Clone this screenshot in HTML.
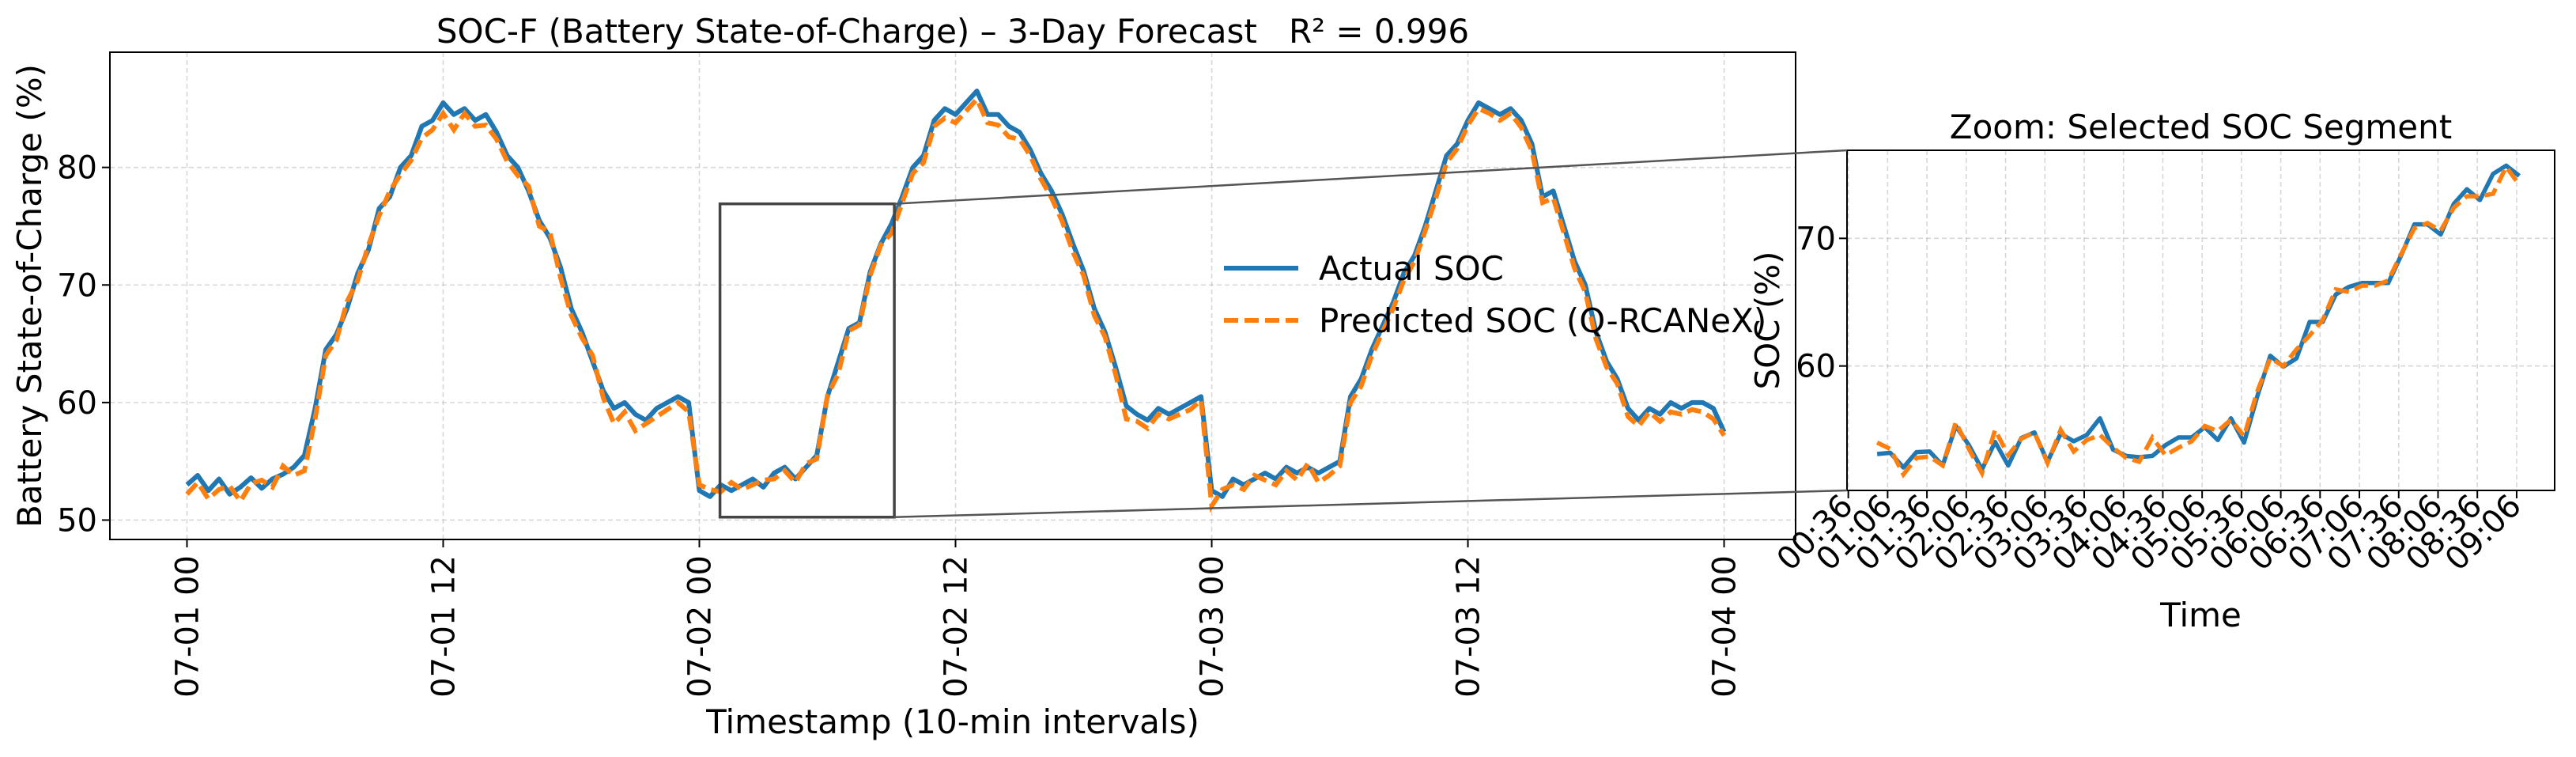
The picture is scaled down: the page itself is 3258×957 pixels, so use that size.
<!DOCTYPE html>
<html><head><meta charset="utf-8"><style>
html,body{margin:0;padding:0;background:#fff;}
svg{display:block;font-family:"DejaVu Sans","Liberation Sans",sans-serif;}
</style></head><body>
<svg id="chart" width="3258" height="957" viewBox="0 0 3258 957" xmlns="http://www.w3.org/2000/svg">
<rect width="3258" height="957" fill="#fff"/>
<g id="main"></g>
<g id="inset"></g>
<g id="overlay"></g>
</svg>
<script>
// ---- main chart data (30-min samples, hours from 07-01 00:00) ----
const mainActual = [
53,53.8,52.5,53.5,52.2,52.8,53.6,52.7,53.5,53.9,54.5,55.5,
59.5,64.5,65.8,68,71,73,76.5,77.5,80,81,83.5,84,85.5,84.5,85,84,84.5,83,81,80,78,75.5,74,71.5,68,66,63.5,61,59.5,60,59,58.5,59.5,60,60.5,60,
52.5,52,53,52.5,53,53.5,52.8,54,54.5,53.5,54.5,55.5,
60.5,63.4,66.3,66.8,71.1,73.5,75.2,77.5,80,81,84,85,84.5,85.5,86.5,84.5,84.5,83.5,83,81.5,79.5,78,76,73.5,71.2,68,66,63,59.7,59,58.5,59.5,59,59.5,60,60.5,
52.5,52,53.5,53,53.5,54,53.5,54.5,54,54.5,54,54.5,
55,60.5,62,64.5,66.5,68.5,71,72.5,75,78,81,82,84,85.5,85,84.5,85,84,82,77.5,78,75,72,70,66,63.5,62,59.5,58.5,59.5,59,60,59.5,60,60,59.5,
57.5];
const mainPredicted = [
52.2,53.2,51.8,52.6,52.9,51.6,53.1,53.4,52.8,54.6,53.8,54.2,
58.6,64,65.3,68.6,70.4,73.4,75.9,78,79.4,80.6,82.5,83.2,84.6,83.2,84.6,83.5,83.6,82.4,80.5,79.3,78.4,75,74.5,70.6,67.4,65.5,64,60.4,58.2,59.2,57.6,58.2,58.8,59.4,60,59.2,
53,52.6,52.4,53.2,52.6,53,53.4,53.5,54.2,53.2,54.8,55.2,
60.6,62.4,66.1,66.6,70.8,73.4,74.4,77,79.5,80.4,83.5,84.2,83.8,84.8,85.8,83.8,83.6,82.6,82.4,81,79,77.4,75.4,72.8,70.8,67.4,65.6,62.4,58.6,58.4,57.8,59,58.6,59,59.4,60.2,
51.2,52.6,53,52.6,53.8,53.4,53,54.2,53.4,54.8,53.2,53.8,
54.6,60,61.4,64,66,68,70.4,72,74.6,77.4,80.4,81.6,83.6,85,84.6,84,84.6,83.4,81.4,77,77.4,74.4,71.4,69.4,65.4,63,61.6,58.8,58,59.2,58.4,59.2,59,59.4,59.2,58.6,
57.2];
const mainTickLabels = ["07-01 00","07-01 12","07-02 00","07-02 12","07-03 00","07-03 12","07-04 00"];
const mainTickHours = [0,12,24,36,48,60,72];
const mainYTicks = [50,60,70,80];

// ---- inset data (10-min samples starting 00:58 on 07-02) ----
const zoomActual = [53.1,53.2,52.05,53.25,53.3,52.2,55.3,53.8,51.9,54.05,52.2,54.35,54.8,52.5,54.7,54.1,54.6,55.9,53.45,52.95,52.85,52.95,53.8,54.4,54.4,55.2,54.2,55.9,54.0,57.6,60.8,59.95,60.6,63.45,63.45,65.6,66.2,66.5,66.5,66.5,68.7,71.1,71.1,70.3,72.7,73.85,73.0,75.05,75.7,74.9];
const zoomPredicted = [54.0,53.5,51.5,52.8,52.9,52.2,55.6,53.5,51.6,55.0,53.0,54.3,54.8,52.4,55.0,53.3,54.2,54.6,53.6,52.8,52.5,54.4,53.0,53.6,54.1,55.3,54.9,55.8,54.5,58.0,60.6,60.0,61.3,62.4,63.6,66.0,65.8,66.3,66.3,66.7,68.8,70.8,71.2,70.6,72.4,73.3,73.3,73.5,75.6,74.2];
const zoomTickLabels = ["00:36","01:06","01:36","02:06","02:36","03:06","03:36","04:06","04:36","05:06","05:36","06:06","06:36","07:06","07:36","08:06","08:36","09:06"];
const zoomYTicks = [60,70];
const zoomStartMinute = 58;  // 00:58
const zoomStepMinutes = 10;
const zoomDayOffsetHours = 24;

const NS = "http://www.w3.org/2000/svg";
function mk(parent, tag, attrs, text){
  const e = document.createElementNS(NS, tag);
  for (const k in attrs) e.setAttribute(k, attrs[k]);
  if (text !== undefined) e.textContent = text;
  parent.appendChild(e);
  return e;
}
const BLUE = "#1f77b4", ORANGE = "#ff7f0e";
const TICKFS = 40, LABFS = 42;

// ---- main axes ----
const M = {l:139, r:2271, t:66, b:682, x0:-3.61, x1:75.35, y0:48.35, y1:89.8};
const mx = h => M.l + (h - M.x0) / (M.x1 - M.x0) * (M.r - M.l);
const my = v => M.b - (v - M.y0) / (M.y1 - M.y0) * (M.b - M.t);
const gMain = document.getElementById('main');

mainTickHours.forEach((h, i) => {
  const g = mk(gMain, 'line', {x1:mx(h), x2:mx(h), y1:M.t, y2:M.b, stroke:'#b0b0b0', 'stroke-width':1.6, 'stroke-dasharray':'6 4', opacity:0.5});
  
  
  const tk = mk(gMain, 'line', {x1:mx(h), x2:mx(h), y1:M.b, y2:M.b+10, stroke:'#000', 'stroke-width':2});
  
  
  const t = mk(gMain, 'text', {x:mx(h)+14, y:702, 'font-size':TICKFS, 'text-anchor':'end', transform:`rotate(-90 ${mx(h)+14} 702)`}, mainTickLabels[i]);
  
  
});
mainYTicks.forEach(v => {
  const g = mk(gMain, 'line', {x1:M.l, x2:M.r, y1:my(v), y2:my(v), stroke:'#b0b0b0', 'stroke-width':1.6, 'stroke-dasharray':'6 4', opacity:0.5});
  
  
  const tk = mk(gMain, 'line', {x1:M.l-10, x2:M.l, y1:my(v), y2:my(v), stroke:'#000', 'stroke-width':2});
  
  
  const t = mk(gMain, 'text', {x:M.l-16, y:my(v)+14, 'font-size':TICKFS, 'text-anchor':'end'}, String(v));
  
  
});

const pathFrom = (arr, fx, fy) => arr.map((v, i) => (i ? 'L' : 'M') + fx(i).toFixed(1) + ',' + fy(v).toFixed(1)).join('');
const pa = mk(gMain, 'path', {d:pathFrom(mainActual, i => mx(i*0.5), my), fill:'none', stroke:BLUE, 'stroke-width':6, 'stroke-linejoin':'round'});


const pp = mk(gMain, 'path', {d:pathFrom(mainPredicted, i => mx(i*0.5), my), fill:'none', stroke:ORANGE, 'stroke-width':6, 'stroke-dasharray':'18 8'});



const frame = mk(gMain, 'rect', {x:M.l, y:M.t, width:M.r-M.l, height:M.b-M.t, fill:'none', stroke:'#000', 'stroke-width':2});



const title = mk(gMain, 'text', {x:(M.l+M.r)/2, y:54, 'font-size':LABFS, 'text-anchor':'middle'}, 'SOC-F (Battery State-of-Charge) – 3-Day Forecast   R² = 0.996');


title.setAttribute('xml:space', 'preserve');
title.style.whiteSpace = 'pre';
const yl = mk(gMain, 'text', {x:52, y:374, 'font-size':LABFS, 'text-anchor':'middle', transform:'rotate(-90 52 374)'}, 'Battery State-of-Charge (%)');


const xl = mk(gMain, 'text', {x:1205, y:927, 'font-size':LABFS, 'text-anchor':'middle'}, 'Timestamp (10-min intervals)');



// legend
const lg1 = mk(gMain, 'line', {x1:1548, x2:1642, y1:339, y2:339, stroke:BLUE, 'stroke-width':6});


const lt1 = mk(gMain, 'text', {x:1668, y:354, 'font-size':LABFS}, 'Actual SOC');


const lg2 = mk(gMain, 'line', {x1:1548, x2:1642, y1:405, y2:405, stroke:ORANGE, 'stroke-width':6, 'stroke-dasharray':'18 8'});


const lt2 = mk(gMain, 'text', {x:1668, y:420, 'font-size':LABFS}, 'Predicted SOC (Q-RCANeX)');



// ---- inset ----
const Z = {l:2336, r:3231, t:190, b:620, x0:35, x1:575, y0:50.25, y1:76.9};
const zx = m => Z.l + (m - Z.x0) / (Z.x1 - Z.x0) * (Z.r - Z.l);
const zy = v => Z.b - (v - Z.y0) / (Z.y1 - Z.y0) * (Z.b - Z.t);
const gIn = document.getElementById('inset');
const bg = mk(gIn, 'rect', {x:Z.l, y:Z.t, width:Z.r-Z.l, height:Z.b-Z.t, fill:'#fff'});


zoomTickLabels.forEach((lab, i) => {
  const m = 36 + i*30;
  const g = mk(gIn, 'line', {x1:zx(m), x2:zx(m), y1:Z.t, y2:Z.b, stroke:'#b0b0b0', 'stroke-width':1.6, 'stroke-dasharray':'6 4', opacity:0.5});
  
  
  const tk = mk(gIn, 'line', {x1:zx(m), x2:zx(m), y1:Z.b, y2:Z.b+10, stroke:'#000', 'stroke-width':2});
  
  
  const tx = zx(m)+8, ty = 642;
  const t = mk(gIn, 'text', {x:tx, y:ty, 'font-size':TICKFS, 'text-anchor':'end', transform:`rotate(-45 ${tx} ${ty})`}, lab);
  
  
});
zoomYTicks.forEach(v => {
  const g = mk(gIn, 'line', {x1:Z.l, x2:Z.r, y1:zy(v), y2:zy(v), stroke:'#b0b0b0', 'stroke-width':1.6, 'stroke-dasharray':'6 4', opacity:0.5});
  
  
  const tk = mk(gIn, 'line', {x1:Z.l-10, x2:Z.l, y1:zy(v), y2:zy(v), stroke:'#000', 'stroke-width':2});
  
  
  const t = mk(gIn, 'text', {x:Z.l-14, y:zy(v)+14, 'font-size':TICKFS, 'text-anchor':'end'}, String(v));
  
  
});
const zMin = i => zoomStartMinute + i*zoomStepMinutes;
const za = mk(gIn, 'path', {d:pathFrom(zoomActual, i => zx(zMin(i)), zy), fill:'none', stroke:BLUE, 'stroke-width':5.5, 'stroke-linejoin':'round'});


const zp = mk(gIn, 'path', {d:pathFrom(zoomPredicted, i => zx(zMin(i)), zy), fill:'none', stroke:ORANGE, 'stroke-width':5.5, 'stroke-dasharray':'18 8'});


const zf = mk(gIn, 'rect', {x:Z.l, y:Z.t, width:Z.r-Z.l, height:Z.b-Z.t, fill:'none', stroke:'#000', 'stroke-width':2});


const zt = mk(gIn, 'text', {x:(Z.l+Z.r)/2, y:175, 'font-size':LABFS, 'text-anchor':'middle'}, 'Zoom: Selected SOC Segment');


const zyl = mk(gIn, 'text', {x:2250, y:405, 'font-size':LABFS, 'text-anchor':'middle', transform:'rotate(-90 2250 405)'}, 'SOC (%)');


const zxl = mk(gIn, 'text', {x:(Z.l+Z.r)/2, y:792, 'font-size':LABFS, 'text-anchor':'middle'}, 'Time');



// ---- selection rectangle & connectors ----
const gO = document.getElementById('overlay');
const h0 = zoomDayOffsetHours + zMin(0)/60, h1 = zoomDayOffsetHours + zMin(zoomActual.length-1)/60;
const rx0 = mx(h0), rx1 = mx(h1), ry0 = my(Z.y1), ry1 = my(Z.y0);
const sel = mk(gO, 'rect', {x:rx0, y:ry0, width:rx1-rx0, height:ry1-ry0, fill:'none', stroke:'#444', 'stroke-width':3.5});


const c1 = mk(gO, 'line', {x1:rx1, y1:ry0, x2:Z.l, y2:Z.t, stroke:'#555', 'stroke-width':2.5});


const c2 = mk(gO, 'line', {x1:rx1, y1:ry1, x2:Z.l, y2:Z.b, stroke:'#555', 'stroke-width':2.5});


</script>
</body></html>
